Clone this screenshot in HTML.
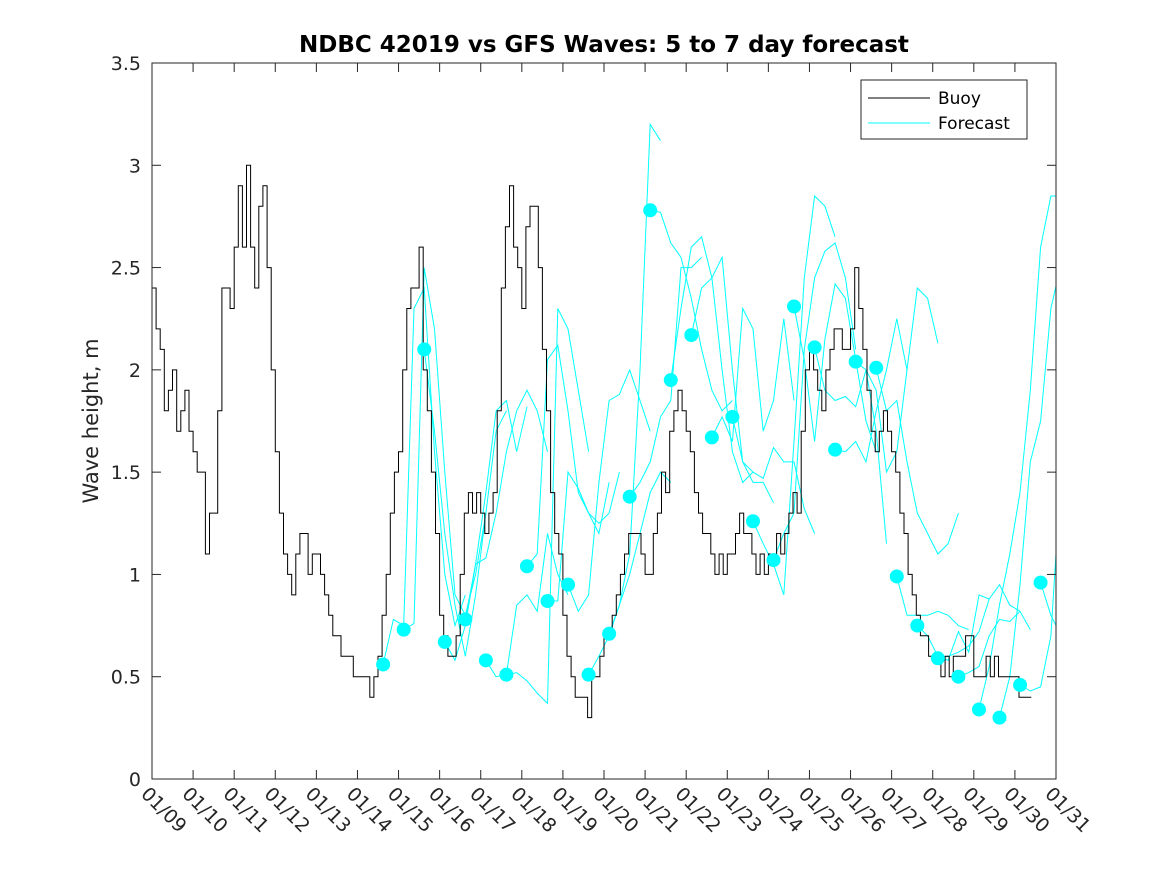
<!DOCTYPE html>
<html><head><meta charset="utf-8"><style>
html,body{margin:0;padding:0;background:#fff;}
svg{display:block;font-family:"DejaVu Sans","Liberation Sans",sans-serif;}
</style></head><body>
<svg id="chart" width="1167" height="875" xmlns="http://www.w3.org/2000/svg">
<defs><clipPath id="pc"><rect x="152" y="63" width="904" height="716"/></clipPath></defs>
<rect x="0" y="0" width="1167" height="875" fill="#fff"/>
<text x="604" y="52" text-anchor="middle" font-size="23" font-weight="bold" fill="#000">NDBC 42019 vs GFS Waves: 5 to 7 day forecast</text>
<text transform="translate(98,421) rotate(-90)" text-anchor="middle" font-size="21" fill="#262626">Wave height, m</text>
<g id="grid"></g>
<g id="series" clip-path="url(#pc)"></g>
<g id="dots"></g>
<rect x="152" y="63" width="904" height="716" fill="none" stroke="#262626" stroke-width="1"/>
<g id="axes"></g>
<g>
<rect x="861" y="80" width="166" height="59" fill="#fff" stroke="#262626" stroke-width="1"/>
<line x1="868" y1="98" x2="930" y2="98" stroke="#000" stroke-width="1"/>
<text x="938" y="104" font-size="17" fill="#000">Buoy</text>
<line x1="868" y1="123" x2="930" y2="123" stroke="#00ffff" stroke-width="1"/>
<text x="938" y="129" font-size="17" fill="#000">Forecast</text>
</g>
</svg>
<script>
const xTickLabels = ["01/09","01/10","01/11","01/12","01/13","01/14","01/15","01/16","01/17","01/18","01/19","01/20","01/21","01/22","01/23","01/24","01/25","01/26","01/27","01/28","01/29","01/30","01/31"];
const yTicks = [0,0.5,1,1.5,2,2.5,3,3.5];
const yTickLabels = ["0","0.5","1","1.5","2","2.5","3","3.5"];
const buoyStep = 0.1;
const buoyValues = [2.4,2.2,2.1,1.8,1.9,2.0,1.7,1.8,1.9,1.7,1.6,1.5,1.5,1.1,1.3,1.3,1.8,2.4,2.4,2.3,2.6,2.9,2.6,3.0,2.6,2.4,2.8,2.9,2.5,2.0,1.6,1.3,1.1,1.0,0.9,1.1,1.2,1.2,1.0,1.1,1.1,1.0,0.9,0.8,0.7,0.7,0.6,0.6,0.6,0.5,0.5,0.5,0.5,0.4,0.5,0.6,0.8,1.0,1.3,1.5,1.6,2.0,2.3,2.4,2.4,2.6,2.0,1.8,1.5,1.2,0.8,0.7,0.6,0.6,0.7,1.0,1.3,1.4,1.3,1.4,1.3,1.2,1.3,1.4,1.8,2.4,2.7,2.9,2.6,2.5,2.3,2.7,2.8,2.8,2.5,2.1,1.8,1.4,1.2,1.1,0.8,0.6,0.5,0.4,0.4,0.4,0.3,0.5,0.5,0.6,0.7,0.7,0.8,0.9,1.0,1.1,1.2,1.2,1.2,1.1,1.0,1.0,1.2,1.3,1.5,1.4,1.7,1.8,1.9,1.8,1.7,1.6,1.4,1.3,1.2,1.2,1.1,1.0,1.1,1.0,1.1,1.1,1.2,1.3,1.2,1.2,1.1,1.0,1.1,1.0,1.1,1.1,1.2,1.1,1.2,1.3,1.4,1.3,1.7,2.0,2.1,2.0,1.9,1.8,2.0,2.1,2.2,2.2,2.1,2.1,2.2,2.5,2.3,2.1,1.9,1.7,1.6,1.7,1.8,1.7,1.6,1.5,1.3,1.2,1.0,0.9,0.8,0.7,0.7,0.6,0.6,0.6,0.5,0.6,0.5,0.6,0.6,0.6,0.7,0.7,0.5,0.5,0.5,0.6,0.5,0.6,0.5,0.5,0.5,0.5,0.5,0.4,0.4,0.4];
const fcStart = 5.625;
const fcSpacing = 0.5;
const fcStep = 0.25;
const dotValues = [0.56,0.73,2.10,0.67,0.78,0.58,0.51,1.04,0.87,0.95,0.51,0.71,1.38,2.78,1.95,2.17,1.67,1.77,1.26,1.07,2.31,2.11,1.61,2.04,2.01,0.99,0.75,0.59,0.50,0.34,0.30,0.46,0.96];
const fc0=[0.56,0.78,0.75,2.3,2.4,1.6,1.0,0.75,0.9];
const fc1=[0.73,0.76,2.5,2.2,1.5,0.9,0.8,1.0,1.3];
const fc2=[2.10,1.7,1.2,0.85,0.6,0.9,1.3,1.7,1.8];
const fc3=[0.67,0.58,0.75,1.05,1.4,1.8,1.85,1.6,1.82];
const fc4=[0.78,1.05,1.08,1.3,1.6,1.8,1.9,1.8,1.6];
const fc5=[0.58,0.5,0.51,0.85,0.9,0.82,1.2,1.0,0.9];
const fc6=[0.51,0.52,0.48,0.42,0.37,2.3,2.2,1.9,1.6];
const fc7=[1.04,1.1,2.05,2.12,1.8,1.4,1.3,1.2,1.45];
const fc8=[0.87,0.87,1.5,1.42,1.3,1.25,1.3,1.5];
const fc9=[0.95,0.82,0.9,1.45,1.85,1.88,2.0,1.85,1.7];
const fc10=[0.51,0.6,0.7,0.85,1.0,1.2,1.4,1.5,1.45];
const fc11=[0.71,0.85,1.1,2.0,3.2,3.12];
const fc12=[1.38,1.45,1.55,1.77,1.85,2.5,2.5,2.55];
const fc13=[2.78,2.77,2.62,2.55,2.35,2.1,1.9,1.8,1.85];
const fc14=[1.95,2.3,2.6,2.65,2.45,2.0,1.6,1.45,1.5];
const fc15=[2.17,2.4,2.45,2.55,2.0,1.55,1.45,1.45,1.35];
const fc16=[1.67,1.77,1.65,2.3,2.2,1.7,1.85,2.25,1.85];
const fc17=[1.77,1.55,1.5,1.47,1.62,1.55,1.55,1.32,1.2];
const fc18=[1.26,1.15,1.05,0.9,1.65,2.45,2.85,2.8,2.65];
const fc19=[1.07,1.2,1.3,2.1,2.45,2.58,2.62,2.45,2.1];
const fc20=[2.31,2.05,1.65,2.15,2.42,2.35,2.05,1.75,1.6];
const fc21=[2.11,1.9,1.85,1.87,1.82,2.0,1.7,1.15];
const fc22=[1.61,1.6,1.65,1.55,1.8,2.0,2.25,2.0];
const fc23=[2.04,2.0,1.9,1.5,1.6,2.0,2.4,2.35,2.13];
const fc24=[2.01,1.8,1.85,1.55,1.3,1.2,1.1,1.15,1.3];
const fc25=[0.99,0.8,0.8,0.8,0.82,0.8,0.75,0.73];
const fc26=[0.75,0.7,0.6,0.58,0.72,0.62,0.9,0.88];
const fc27=[0.59,0.6,0.62,0.65,0.72,0.88,0.95,0.85,0.82];
const fc28=[0.50,0.52,0.55,0.7,0.78,0.77,0.82,0.73];
const fc29=[0.34,0.55,0.85,1.1,1.4,1.9,2.6,2.85,2.85];
const fc30=[0.30,0.5,0.95,1.55,1.75,2.3,2.52];
const fc31=[0.46,0.43,0.45,0.7,1.5];
const fc32=[0.96,0.8,0.7,0.7,1.2,1.8];
const forecasts=[fc0,fc1,fc2,fc3,fc4,fc5,fc6,fc7,fc8,fc9,fc10,fc11,fc12,fc13,fc14,fc15,fc16,fc17,fc18,fc19,fc20,fc21,fc22,fc23,fc24,fc25,fc26,fc27,fc28,fc29,fc30,fc31,fc32];

const NS="http://www.w3.org/2000/svg";
const X0=152,X1=1056,Y0=779,Y1=63,DMAX=22,VMAX=3.5;
function xs(d){return X0+(X1-X0)*d/DMAX;}
function ys(v){return Y0-(Y0-Y1)*v/VMAX;}
function mk(tag,attrs,parent){const e=document.createElementNS(NS,tag);for(const k in attrs)e.setAttribute(k,attrs[k]);parent.appendChild(e);return e;}
const axes=document.getElementById('axes'),series=document.getElementById('series'),dots=document.getElementById('dots');

xTickLabels.forEach((lab,i)=>{
  const x=xs(i);
  if(i>0&&i<xTickLabels.length-1){
    const t1=mk('line',{x1:x,y1:Y0,x2:x,y2:Y0-9,stroke:'#262626'},axes);
    
    
    const t2=mk('line',{x1:x,y1:Y1,x2:x,y2:Y1+9,stroke:'#262626'},axes);
    
    
  }
  const t=mk('text',{transform:`translate(${x-12},${Y0+16}) rotate(45)`,'font-size':19,fill:'#262626'},axes);
  t.textContent=lab;
  
  
});
yTicks.forEach((v,i)=>{
  const y=ys(v);
  if(i>0&&i<yTicks.length-1){
    const t1=mk('line',{x1:X0,y1:y,x2:X0+9,y2:y,stroke:'#262626'},axes);
    
    
    const t2=mk('line',{x1:X1,y1:y,x2:X1-9,y2:y,stroke:'#262626'},axes);
    
    
  }
  const t=mk('text',{x:X0-11,y:y+7,'text-anchor':'end','font-size':19,fill:'#262626'},axes);
  t.textContent=yTickLabels[i];
  
  
});

forecasts.forEach((arr,k)=>{
  const d0=fcStart+k*fcSpacing;
  const pts=arr.map((v,j)=>xs(d0+j*fcStep).toFixed(1)+','+ys(v).toFixed(1)).join(' ');
  const p=mk('polyline',{points:pts,fill:'none',stroke:'#00ffff','stroke-width':1},series);
  
  
});
let d='';
buoyValues.forEach((v,i)=>{
  const x=xs(i*buoyStep),y=ys(v);
  if(i===0)d+=`M${x.toFixed(1)},${y.toFixed(1)}`;
  else d+=`V${y.toFixed(1)}`;
  d+=`H${xs((i+1)*buoyStep).toFixed(1)}`;
});
const bp=mk('path',{d:d,fill:'none',stroke:'#000','stroke-width':1},series);


dotValues.forEach((v,k)=>{
  const c=mk('circle',{cx:xs(fcStart+k*fcSpacing),cy:ys(v),r:7,fill:'#00ffff'},dots);
  
  
});
</script>
</body></html>
